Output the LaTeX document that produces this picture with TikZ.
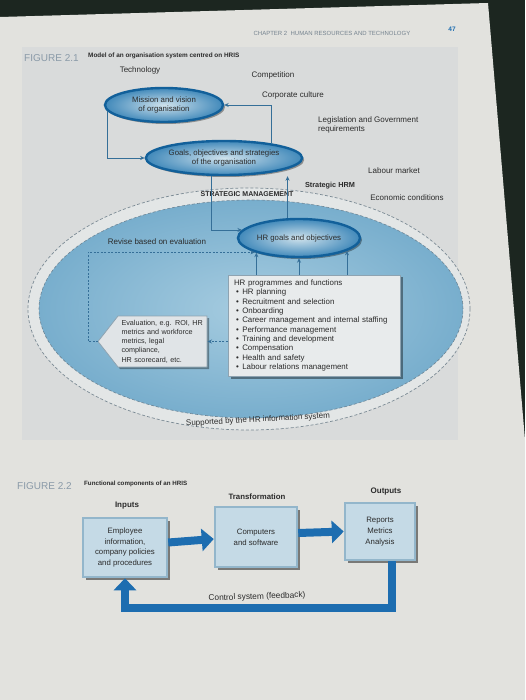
\documentclass[tikz,border=0pt]{standalone}
\usepackage{fontspec}
\setmainfont{Liberation Sans}
\usetikzlibrary{shapes.geometric,arrows.meta,shadows,calc}
\newcommand{\myfs}[2]{\fontsize{#1}{#2}\selectfont}
\definecolor{darkbg}{HTML}{1C2620}
\definecolor{pagec}{HTML}{E2E2DE}
\definecolor{panelc}{HTML}{D9DBDB}
\definecolor{ringfill}{HTML}{E3E6E6}
\definecolor{ringdash}{HTML}{7B8A94}
\definecolor{ellin}{HTML}{A6CCE0}
\definecolor{ellout}{HTML}{78AECD}
\definecolor{ringblue}{HTML}{12609A}
\definecolor{ovalin}{HTML}{CFE2EC}
\definecolor{ovalout}{HTML}{4189BA}
\definecolor{lineblue}{HTML}{356F98}
\definecolor{txt}{HTML}{2B2B2B}
\definecolor{boxfill}{HTML}{C5DAE6}
\definecolor{boxedge}{HTML}{93B6CB}
\definecolor{fatblue}{HTML}{1D6DB0}
\definecolor{hrfill}{HTML}{E8EBEC}
\definecolor{hredge}{HTML}{8EA3B1}
\definecolor{evalfill}{HTML}{E0E4E7}
\definecolor{headgray}{HTML}{8A9AA8}
\begin{document}
\begin{tikzpicture}[x=1pt,y=-1pt,
  lbl/.style={font=\myfs{8}{9.3}, text=txt, inner sep=1pt},
  blbl/.style={font=\bfseries\myfs{7.6}{9}, text=txt, inner sep=1pt},
  fighead/.style={font=\myfs{10}{12}, text=headgray, inner sep=0pt},
  figtitle/.style={font=\bfseries\myfs{6.4}{7.5}, text=txt, inner sep=0pt},
  oval/.style={ellipse, draw=ringblue, line width=2.4pt, inner color=ovalin, outer color=ovalout,
    inner sep=0pt, align=center, font=\myfs{7.8}{9.2}, text=txt,
    drop shadow={shadow xshift=2pt, shadow yshift=-2pt, fill=black, opacity=0.35}},
  conn/.style={draw=lineblue, line width=0.8pt, -{Stealth[length=4.5pt,width=4pt]}},
  dconn/.style={conn, dash pattern=on 2pt off 1.5pt},
  hrboxst/.style={rectangle, fill=hrfill, draw=hredge, line width=0.8pt, text width=160pt,
    align=left, inner xsep=6pt, inner ysep=5pt, font=\myfs{7.9}{9.3}, text=txt,
    drop shadow={shadow xshift=2.5pt, shadow yshift=-2.5pt, fill=black, opacity=0.4}},
  fbox/.style={rectangle, fill=boxfill, draw=boxedge, line width=2.5pt, align=center,
    font=\myfs{7.8}{10.7}, text=txt, inner sep=0pt,
    drop shadow={shadow xshift=2.5pt, shadow yshift=-2.5pt, fill=black!80, opacity=0.6}},
  fat/.style={draw=fatblue, line width=8pt, line join=miter, -{Triangle[length=12pt,width=22pt]}}
]
\useasboundingbox (0,0) rectangle (525,700);
% photo surroundings and page
\fill[darkbg] (0,0) rectangle (525,700);
\fill[pagec] (0,17) -- (488,3) -- (525,440) -- (525,700) -- (0,700) -- cycle;
\fill[panelc] (22,47) rectangle (458,440);

% running head
\node[font=\myfs{6}{7}, text=headgray!85!black, inner sep=0pt] (runhead) at (332,33) {CHAPTER 2\ \ HUMAN RESOURCES AND TECHNOLOGY};
\node[font=\bfseries\myfs{6.5}{7}, text=fatblue, inner sep=0pt] (pageno) at (452,29) {47};

% Figure 2.1 heading
\node[fighead, anchor=west] (fig21) at (24,58) {FIGURE 2.1};
\node[figtitle, anchor=west] (fig21t) at (88,56) {Model of an organisation system centred on HRIS};

% environment labels
\node[lbl] (tech) at (140,70) {Technology};
\node[lbl] (comp) at (273,75) {Competition};
\node[lbl] (cult) at (293,95) {Corporate culture};
\node[lbl, anchor=west, align=left] (legis) at (317,125) {Legislation and Government\\requirements};
\node[lbl] (labour) at (394,171) {Labour market};
\node[blbl, font=\bfseries\myfs{7.3}{9}] (shrm) at (330,186) {Strategic HRM};
\node[lbl] (econ) at (407,198) {Economic conditions};

% big system ellipse
\node[ellipse, minimum width=442pt, minimum height=242pt, fill=ringfill, draw=ringdash,
  dash pattern=on 3pt off 2pt, line width=0.7pt, inner sep=0pt] (sysout) at (249,309) {};
\node[ellipse, minimum width=424pt, minimum height=218pt, inner color=ellin, outer color=ellout,
  draw=ringdash!80!lineblue, dash pattern=on 3pt off 2pt, line width=0.6pt, inner sep=0pt] (sys) at (251,309) {};
\node[font=\bfseries\myfs{7}{8}, text=txt, fill=ringfill, inner sep=1pt] (sm) at (247,194) {STRATEGIC MANAGEMENT};
\node[lbl, inner sep=0pt, rotate=3] (sup) at (258,420) {Supported by the HR information system};
\node[lbl] (revise) at (157,242) {Revise based on evaluation};

% ovals
\node[oval, minimum width=118pt, minimum height=34pt] (mission) at (164,105) {Mission and vision\\of organisation};
\node[oval, minimum width=148pt, minimum height=34pt] (goals) at (224,158) {Goals, objectives and strategies\\of the organisation};
\node[oval, minimum width=122pt, minimum height=38pt] (hrgoals) at (299,238) {HR goals and objectives};

% HR programmes box
\node[hrboxst] (hrbox) at (314,325.5) {HR programmes and functions\\
\hspace*{2pt}\textbullet\hspace{3.5pt}HR planning\\
\hspace*{2pt}\textbullet\hspace{3.5pt}Recruitment and selection\\
\hspace*{2pt}\textbullet\hspace{3.5pt}Onboarding\\
\hspace*{2pt}\textbullet\hspace{3.5pt}Career management and internal staffing\\
\hspace*{2pt}\textbullet\hspace{3.5pt}Performance management\\
\hspace*{2pt}\textbullet\hspace{3.5pt}Training and development\\
\hspace*{2pt}\textbullet\hspace{3.5pt}Compensation\\
\hspace*{2pt}\textbullet\hspace{3.5pt}Health and safety\\
\hspace*{2pt}\textbullet\hspace{3.5pt}Labour relations management};

% evaluation pointer box
\coordinate (evalc) at (162.5,341.5);
\filldraw[fill=evalfill, draw=hredge, line width=0.8pt,
  drop shadow={shadow xshift=2pt, shadow yshift=-2pt, fill=black, opacity=0.35}]
  ($(evalc)+(-44.5,-25.5)$) -- ($(evalc)+(44.5,-25.5)$) -- ($(evalc)+(44.5,25.5)$)
  -- ($(evalc)+(-44.5,25.5)$) -- ($(evalc)+(-64.5,0)$) -- cycle;
\node[rectangle, minimum width=89pt, minimum height=51pt, text width=86pt, align=left,
  inner sep=0pt, font=\myfs{7.2}{9.2}, text=txt] (eval) at ($(evalc)+(2,0)$)
  {Evaluation, e.g. ROI, HR\\metrics and workforce\\metrics, legal\\compliance,\\HR scorecard, etc.};
\coordinate (evaltip) at ($(evalc)+(-64.5,0)$);

% connectors of figure 2.1
\draw[conn] (mission.186) |- (goals.west);
\draw[conn] (goals.17) |- (mission.east);
\draw[conn] (goals.235) |- (hrgoals.172);
\draw[conn] (hrgoals.120) -- (hrgoals.120 |- goals.south);
\draw[conn] (hrbox.north -| hrgoals.199) -- (hrgoals.199);
\draw[conn] (hrbox.north -| hrgoals.south) -- (hrgoals.south);
\draw[conn] (hrbox.north -| hrgoals.345) -- (hrgoals.345);
\draw[dconn] (evalc -| hrbox.west) -- ($(evalc)+(45,0)$);
\draw[dconn] (evaltip) -- ++(-10,0) |- (hrgoals.south west);

% Figure 2.2
\node[fighead, anchor=west] (fig22) at (17,486) {FIGURE 2.2};
\node[figtitle, font=\bfseries\myfs{6.2}{7}, anchor=west] (fig22t) at (84,484) {Functional components of an HRIS};
\node[blbl, font=\bfseries\myfs{8}{9}] (inputs) at (127,506) {Inputs};
\node[blbl, font=\bfseries\myfs{7.8}{9}] (transf) at (257,497) {Transformation};
\node[blbl, font=\bfseries\myfs{8}{9}] (outputs) at (386,492) {Outputs};

\node[fbox, minimum width=84pt, minimum height=59pt] (inbox) at (125,547.5) {Employee\\information,\\company policies\\and procedures};
\node[fbox, minimum width=82pt, minimum height=60pt] (trbox) at (256,537) {Computers\\and software};
\node[fbox, minimum width=70pt, minimum height=57pt] (outbox) at (380,531.5) {Reports\\Metrics\\Analysis};

\draw[fat] ($(inbox.east)+(0,-5)$) -- ($(trbox.west)+(0,2)$);
\draw[fat] ($(trbox.east)+(0,-4)$) -- ($(outbox.west)+(0,0)$);
\draw[fat] ($(outbox.south)+(12,0)$) -- ++(0,47) -| (inbox.south);
\node[lbl, font=\myfs{8.3}{9.5}, rotate=2] (ctrl) at (257,597) {Control system (feedback)};
\end{tikzpicture}
\end{document}
